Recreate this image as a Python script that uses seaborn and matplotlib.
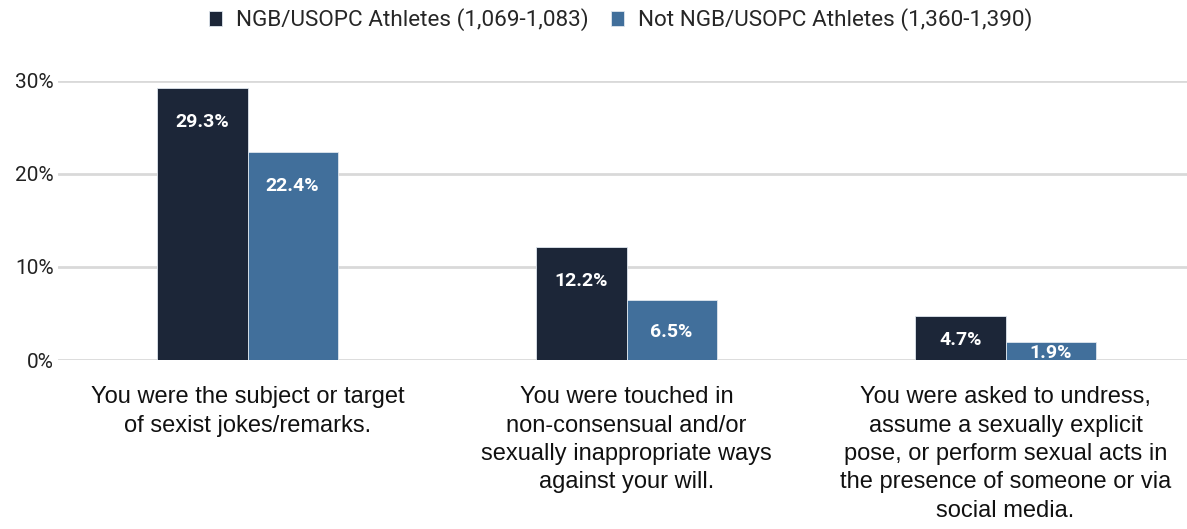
import matplotlib
matplotlib.use("Agg")
import matplotlib.pyplot as plt
import seaborn as sns
import pandas as pd

# data
categories = [
    "You were the subject or target\nof sexist jokes/remarks.",
    "You were touched in\nnon-consensual and/or\nsexually inappropriate ways\nagainst your will.",
    "You were asked to undress,\nassume a sexually explicit\npose, or perform sexual acts in\nthe presence of someone or via\nsocial media.",
]
groups = ["NGB/USOPC Athletes (1,069-1,083)", "Not NGB/USOPC Athletes (1,360-1,390)"]
ngb_vals = [29.3, 12.2, 4.7]
not_ngb_vals = [22.4, 6.5, 1.9]
y_ticks = [0, 10, 20, 30]

colors = ["#1c2638", "#416f9b"]

df = pd.DataFrame({
    "category": categories * 2,
    "group": [groups[0]] * 3 + [groups[1]] * 3,
    "value": ngb_vals + not_ngb_vals,
})

sns.set_style("white")
plt.rcParams["font.family"] = ["Roboto", "DejaVu Sans"]

fig = plt.figure(figsize=(11.87, 5.29), dpi=100)
ax = fig.add_axes([58 / 1187, 169 / 529, 1137 / 1187, 279 / 529])

sns.barplot(data=df, x="category", y="value", hue="group", order=categories,
            hue_order=groups, palette=colors, width=0.475, gap=0,
            saturation=1, linewidth=0.6, edgecolor="#dfe6ee", ax=ax, zorder=3)

ax.set_xlim(-0.5, 2.5)
ax.set_ylim(0, 30)
ax.set_yticks(y_ticks)
ax.set_yticklabels([f"{t}%" for t in y_ticks], fontsize=15, color="#222222")
ax.yaxis.grid(True, color="#d9d9d9", linewidth=2)
ax.set_axisbelow(True)
for s in ax.spines.values():
    s.set_visible(False)
ax.tick_params(axis="y", length=0, pad=3)
ax.tick_params(axis="x", length=0, pad=19)
ax.set_xlabel("")
ax.set_ylabel("")
for lbl in ax.get_xticklabels():
    lbl.set_fontfamily(["Liberation Sans", "DejaVu Sans"])
    lbl.set_fontsize(17)
    lbl.set_multialignment("center")
    lbl.set_linespacing(1.37)
    lbl.set_color("#111111")

# value labels inside bars
px_per_unit = 279 / 30
for cont in ax.containers:
    for bar in cont:
        h = bar.get_height()
        off_px = min(34, h * px_per_unit / 2 + 2)
        ax.annotate(f"{h:.1f}%", (bar.get_x() + bar.get_width() / 2, h),
                    xytext=(0, -off_px * 0.72), textcoords="offset points",
                    ha="center", va="center", color="white",
                    fontsize=14, fontweight="bold", zorder=5)

ax.legend(loc="center", bbox_to_anchor=(0.5 - 6 / 1137, (529 - 20 - 169) / 279),
          ncol=2, frameon=False, fontsize=16.2, handlelength=0.6,
          handleheight=0.6, handletextpad=0.6, columnspacing=1.0)

fig.savefig("out.png", dpi=100)
